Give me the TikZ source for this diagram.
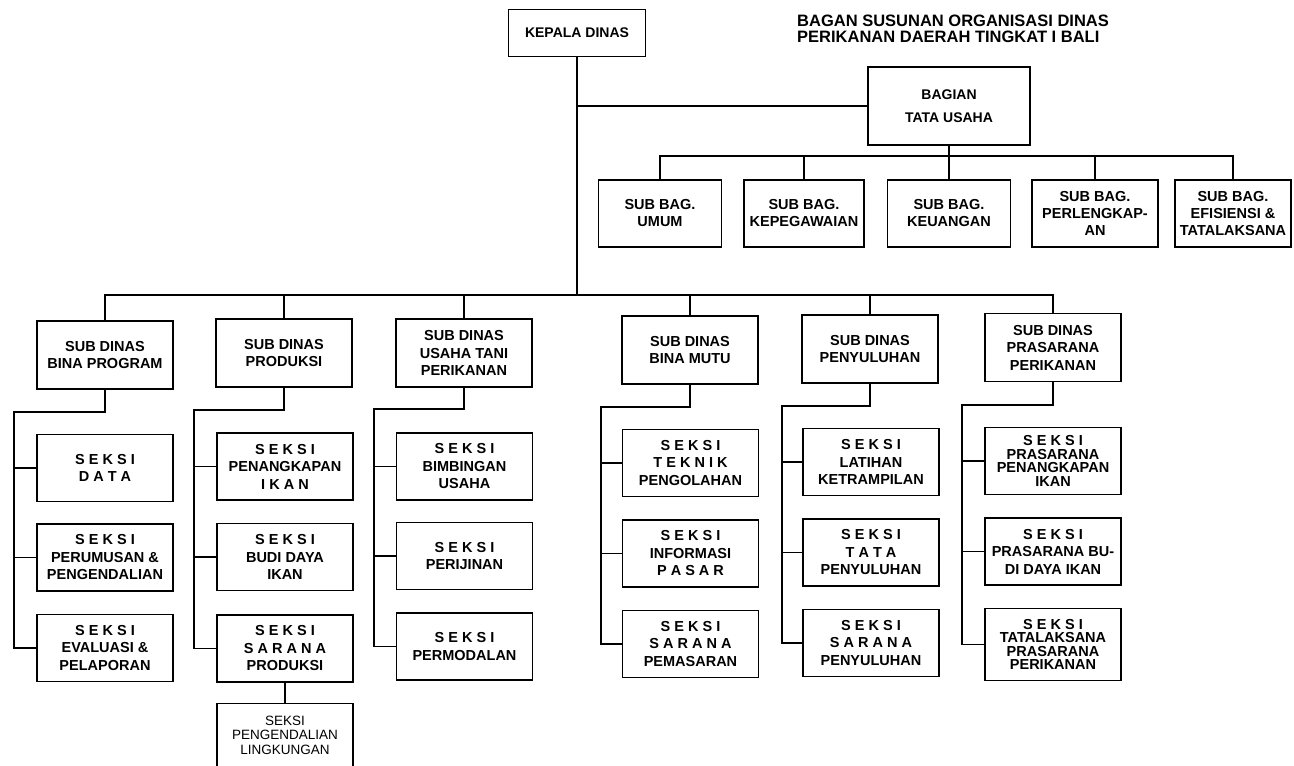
\documentclass[tikz,border=0pt]{standalone}
\usepackage{fontspec}
\setmainfont{Liberation Sans}
\usepackage{tikz}
\usetikzlibrary{positioning}

\begin{document}
\begin{tikzpicture}[x=1pt, y=-1pt,
  box/.style={draw, line width=1.5pt, align=center, inner sep=2pt, font=\fontsize{14.5}{17.5}\selectfont\bfseries},
  dinas/.style={box, minimum width=136pt, minimum height=68pt},
  subbag/.style={box, minimum height=67pt, font=\fontsize{14.5}{17}\selectfont\bfseries},
  seksi/.style={box, minimum width=136pt, minimum height=67pt},
  tight/.style={font=\fontsize{14.5}{13.5}\selectfont\bfseries},
  link/.style={line width=1.5pt}
]
  \useasboundingbox (0,0) rectangle (1294,766);

  \node[anchor=north west, inner sep=0pt, align=left, font=\fontsize{16.5}{16}\selectfont\bfseries] (title) at (797,15) {BAGAN SUSUNAN ORGANISASI DINAS\\PERIKANAN DAERAH TINGKAT I BALI};

  \node[box, minimum width=137pt, minimum height=47pt, font=\fontsize{14}{17}\selectfont\bfseries] (kepala) at (577,33) {KEPALA DINAS};
  \node[box, minimum width=162pt, minimum height=78pt, font=\fontsize{14}{23}\selectfont\bfseries] (bagian) at (949,106) {BAGIAN\\TATA USAHA};

  \node[subbag, minimum width=123pt] (umum) at (660,213.5) {SUB BAG.\\UMUM};
  \node[subbag, minimum width=120pt] (kepeg) at (804,213.5) {SUB BAG.\\KEPEGAWAIAN};
  \node[subbag, minimum width=123pt] (keuangan) at (949,213.5) {SUB BAG.\\KEUANGAN};
  \node[subbag, minimum width=126pt] (perlengkapan) at (1095,213.5) {SUB BAG.\\PERLENGKAP-\\AN};
  \node[subbag, minimum width=116pt] (efisiensi) at (1233,213.5) {SUB BAG.\\EFISIENSI \&\\TATALAKSANA};

  \node[dinas] (program) at (105,355) {SUB DINAS\\BINA PROGRAM};
  \node[dinas] (produksi) at (284,353) {SUB DINAS\\PRODUKSI};
  \node[dinas] (usahatani) at (464,353) {SUB DINAS\\USAHA TANI\\PERIKANAN};
  \node[dinas] (binamutu) at (690,350) {SUB DINAS\\BINA MUTU};
  \node[dinas] (penyuluhan) at (870,349) {SUB DINAS\\PENYULUHAN};
  \node[dinas] (prasarana) at (1053,347.5) {SUB DINAS\\PRASARANA\\PERIKANAN};

  \node[seksi] (data) at (105,468) {S E K S I\\D A T A};
  \node[seksi, below=21pt of data] (perumusan) {S E K S I\\PERUMUSAN \&\\PENGENDALIAN};
  \node[seksi, below=22pt of perumusan] (evaluasi) {S E K S I\\EVALUASI \&\\PELAPORAN};

  \node[seksi] (penangkapan) at (285,466.5) {S E K S I\\PENANGKAPAN\\I K A N};
  \node[seksi, below=22pt of penangkapan] (budidaya) {S E K S I\\BUDI DAYA\\IKAN};
  \node[seksi, below=23pt of budidaya] (sarana) {S E K S I\\S A R A N A\\PRODUKSI};
  \node[seksi, minimum height=63pt, below=20pt of sarana, font=\fontsize{13.5}{14.5}\selectfont] (lingkungan) {SEKSI\\PENGENDALIAN\\LINGKUNGAN};

  \node[seksi] (bimbingan) at (464.5,466.5) {S E K S I\\BIMBINGAN\\USAHA};
  \node[seksi, below=21pt of bimbingan] (perijinan) {S E K S I\\PERIJINAN};
  \node[seksi, below=22pt of perijinan] (permodalan) {S E K S I\\PERMODALAN};

  \node[seksi] (teknik) at (690.5,463) {S E K S I\\T E K N I K\\PENGOLAHAN};
  \node[seksi, below=22pt of teknik] (informasi) {S E K S I\\INFORMASI\\P A S A R};
  \node[seksi, below=22pt of informasi] (pemasaran) {S E K S I\\S A R A N A\\PEMASARAN};

  \node[seksi] (latihan) at (871,462) {S E K S I\\LATIHAN\\KETRAMPILAN};
  \node[seksi, below=22pt of latihan] (tata) {S E K S I\\T A T A\\PENYULUHAN};
  \node[seksi, below=22pt of tata] (saranapeny) {S E K S I\\S A R A N A\\PENYULUHAN};

  \node[seksi, tight] (prpenangkapan) at (1053,461) {S E K S I\\PRASARANA\\PENANGKAPAN\\IKAN};
  \node[seksi, below=22pt of prpenangkapan] (prbudidaya) {S E K S I\\PRASARANA BU-\\DI DAYA IKAN};
  \node[seksi, tight, minimum height=72pt, below=22pt of prbudidaya] (tatalaksana) {S E K S I\\TATALAKSANA\\PRASARANA\\PERIKANAN};

  \coordinate (hub) at (577,295);
  \coordinate (tbus) at (949,156);
  \draw[link] (kepala.south) -- (hub);
  \draw[link] (kepala.south |- bagian.west) -- (bagian.west);
  \draw[link] (bagian.south) -- (keuangan.north);
  \draw[link] (umum.north) |- (tbus) -| (efisiensi.north);
  \draw[link] (kepeg.north) -- (kepeg.north |- tbus);
  \draw[link] (perlengkapan.north) -- (perlengkapan.north |- tbus);

  \draw[link] (program.north) |- (hub) -| (prasarana.north);
  \draw[link] (produksi.north) -- (produksi.north |- hub);
  \draw[link] (usahatani.north) -- (usahatani.north |- hub);
  \draw[link] (binamutu.north) -- (binamutu.north |- hub);
  \draw[link] (penyuluhan.north) -- (penyuluhan.north |- hub);

  \coordinate (j1) at (14,412);
  \draw[link] (program.south) |- (j1) |- (evaluasi.west);
  \draw[link] (j1 |- data.west) -- (data.west);
  \draw[link] (j1 |- perumusan.west) -- (perumusan.west);

  \coordinate (j2) at (194,410);
  \draw[link] (produksi.south) |- (j2) |- (sarana.west);
  \draw[link] (j2 |- penangkapan.west) -- (penangkapan.west);
  \draw[link] (j2 |- budidaya.west) -- (budidaya.west);
  \draw[link] (sarana.south) -- (lingkungan.north);

  \coordinate (j3) at (374,409);
  \draw[link] (usahatani.south) |- (j3) |- (permodalan.west);
  \draw[link] (j3 |- bimbingan.west) -- (bimbingan.west);
  \draw[link] (j3 |- perijinan.west) -- (perijinan.west);

  \coordinate (j4) at (601,407);
  \draw[link] (binamutu.south) |- (j4) |- (pemasaran.west);
  \draw[link] (j4 |- teknik.west) -- (teknik.west);
  \draw[link] (j4 |- informasi.west) -- (informasi.west);

  \coordinate (j5) at (782,406);
  \draw[link] (penyuluhan.south) |- (j5) |- (saranapeny.west);
  \draw[link] (j5 |- latihan.west) -- (latihan.west);
  \draw[link] (j5 |- tata.west) -- (tata.west);

  \coordinate (j6) at (962,405);
  \draw[link] (prasarana.south) |- (j6) |- (tatalaksana.west);
  \draw[link] (j6 |- prpenangkapan.west) -- (prpenangkapan.west);
  \draw[link] (j6 |- prbudidaya.west) -- (prbudidaya.west);
\end{tikzpicture}
\end{document}
